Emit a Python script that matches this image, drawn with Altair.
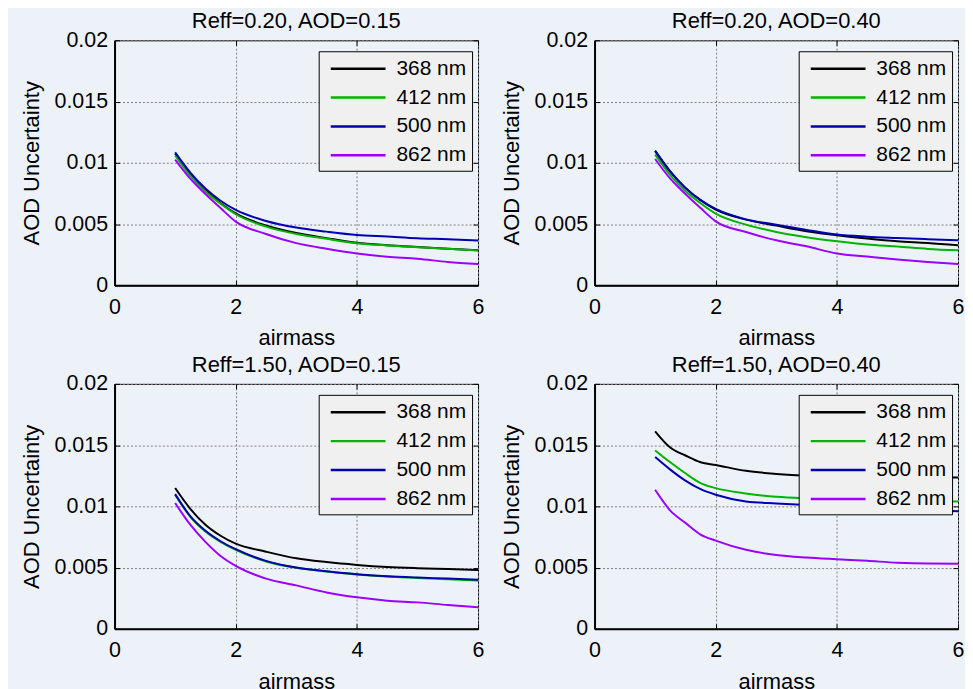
import altair as alt
import pandas as pd

airmass = [1, 1.25, 1.5, 1.75, 2, 2.5, 3, 3.5, 4, 4.5, 5, 5.5, 6]
wavelengths = ["368 nm", "412 nm", "500 nm", "862 nm"]
colors = ["#000000", "#00b400", "#0000b0", "#9b00ff"]
titles = ["Reff=0.20, AOD=0.15", "Reff=0.20, AOD=0.40",
          "Reff=1.50, AOD=0.15", "Reff=1.50, AOD=0.40"]

# AOD uncertainty values, in units of 1e-3, read at the airmass values above
tl_368 = [10.74, 9.05, 7.75, 6.70, 5.87, 4.88, 4.27, 3.85, 3.47, 3.27, 3.12, 2.98, 2.86]
tl_412 = [10.60, 8.95, 7.65, 6.65, 5.80, 4.79, 4.19, 3.79, 3.44, 3.25, 3.11, 2.98, 2.84]
tl_500 = [10.85, 9.20, 7.90, 6.90, 6.15, 5.25, 4.71, 4.38, 4.11, 3.98, 3.84, 3.76, 3.65]
tl_862 = [10.26, 8.70, 7.45, 6.30, 5.20, 4.19, 3.44, 2.98, 2.60, 2.33, 2.17, 1.90, 1.73]

tr_368 = [10.99, 9.30, 7.95, 6.95, 6.18, 5.36, 4.87, 4.41, 4.08, 3.81, 3.59, 3.46, 3.27]
tr_412 = [10.67, 9.00, 7.70, 6.70, 5.85, 4.95, 4.35, 3.92, 3.59, 3.32, 3.16, 2.97, 2.86]
tr_500 = [10.94, 9.25, 7.95, 6.95, 6.23, 5.38, 4.95, 4.52, 4.14, 3.97, 3.86, 3.76, 3.67]
tr_862 = [10.31, 8.70, 7.45, 6.30, 5.22, 4.35, 3.67, 3.18, 2.59, 2.34, 2.10, 1.90, 1.74]

bl_368 = [11.50, 9.80, 8.50, 7.60, 6.95, 6.30, 5.76, 5.45, 5.22, 5.05, 4.95, 4.88, 4.81]
bl_412 = [10.95, 9.15, 7.95, 7.10, 6.45, 5.50, 4.98, 4.68, 4.43, 4.27, 4.16, 4.05, 3.95]
bl_500 = [11.00, 9.20, 8.00, 7.15, 6.50, 5.55, 5.00, 4.70, 4.46, 4.30, 4.19, 4.10, 4.00]
bl_862 = [10.27, 8.50, 7.10, 5.95, 5.14, 4.10, 3.55, 2.97, 2.57, 2.30, 2.16, 1.95, 1.76]

br_368 = [16.13, 14.80, 14.15, 13.60, 13.38, 12.90, 12.65, 12.50, 12.45, 12.42, 12.40, 12.37, 12.35]
br_412 = [14.57, 13.60, 12.70, 11.90, 11.49, 11.05, 10.78, 10.66, 10.60, 10.55, 10.50, 10.45, 10.40]
br_500 = [14.03, 13.00, 12.10, 11.40, 10.95, 10.40, 10.24, 10.12, 10.00, 9.90, 9.80, 9.70, 9.60]
br_862 = [11.35, 9.65, 8.65, 7.70, 7.20, 6.45, 6.03, 5.82, 5.68, 5.55, 5.40, 5.33, 5.32]

panels = [
    [tl_368, tl_412, tl_500, tl_862],
    [tr_368, tr_412, tr_500, tr_862],
    [bl_368, bl_412, bl_500, bl_862],
    [br_368, br_412, br_500, br_862],
]

x_ticks = [0, 2, 4, 6]
y_ticks = [0, 0.005, 0.01, 0.015, 0.02]

FONT = "Liberation Sans"
W, H = 365, 246
XS = alt.Scale(domain=[0, 6], nice=False)
YS = alt.Scale(domain=[0, 0.02], nice=False)


def tick_axis(values, orient, offset):
    return alt.Axis(values=values, orient=orient, offset=offset, labels=False,
                    domain=False, grid=False, ticks=True, tickSize=5,
                    tickColor="black", tickWidth=1, title=None)


def make_panel(i):
    rows = []
    for wl, series in zip(wavelengths, panels[i]):
        for a, v in zip(airmass, series):
            rows.append({"airmass": a, "u": v / 1000.0, "wl": wl})
    df = pd.DataFrame(rows)
    base = alt.Chart(df)
    lines = base.mark_line(strokeWidth=2, interpolate="monotone", clip=True).encode(
        x=alt.X("airmass:Q", scale=XS,
                axis=alt.Axis(values=x_ticks, title="airmass", format="d", orient="bottom")),
        y=alt.Y("u:Q", scale=YS,
                axis=alt.Axis(values=y_ticks, title="AOD Uncertainty", format="~g", orient="left")),
        color=alt.Color("wl:N", sort=wavelengths,
                        scale=alt.Scale(domain=wavelengths, range=colors),
                        legend=alt.Legend(title=None)),
    )
    # inward ticks along bottom and left edges
    ticks_bl = base.mark_point(opacity=0, size=0).encode(
        x=alt.X("airmass:Q", scale=XS, axis=tick_axis(x_ticks, "top", -H)),
        y=alt.Y("u:Q", scale=YS, axis=tick_axis(y_ticks, "right", -W)),
    )
    # inward ticks along top and right edges
    ticks_tr = base.mark_point(opacity=0, size=0).encode(
        x=alt.X("airmass:Q", scale=XS, axis=tick_axis(x_ticks, "bottom", -H)),
        y=alt.Y("u:Q", scale=YS, axis=tick_axis(y_ticks, "left", -W)),
    )
    return (
        alt.layer(lines, ticks_bl, ticks_tr, title=alt.Title(titles[i]))
        .resolve_axis(x="independent", y="independent")
        .properties(width=W, height=H)
    )


top = alt.hconcat(make_panel(0), make_panel(1), spacing=14).resolve_scale(color="independent")
bottom = alt.hconcat(make_panel(2), make_panel(3), spacing=14).resolve_scale(color="independent")

chart = (
    alt.vconcat(top, bottom, spacing=4)
    .resolve_scale(color="independent")
    .properties(background="#edf2f9", padding={"left": 11, "top": 0, "right": 0, "bottom": 0})
    .configure_view(stroke="black", strokeWidth=1)
    .configure_axis(
        labelFont=FONT, labelFontSize=21.5, labelColor="black",
        titleFont=FONT, titleFontSize=22, titleFontWeight="normal", titleColor="black",
        domainColor="black", domainWidth=2, ticks=False, tickSize=0,
        grid=True, gridColor="#808080", gridDash=[2, 2], gridWidth=1,
        labelFlush=False,
    )
    .configure_axisX(labelPadding=11, titlePadding=10)
    .configure_axisY(labelPadding=7, titlePadding=11)
    .configure_title(font=FONT, fontSize=22, fontWeight="normal", color="black", offset=-4)
    .configure_legend(
        orient="none", legendX=205, legendY=11, fillColor="#f0f0f0", strokeColor="black",
        strokeWidth=1, padding=5, cornerRadius=0,
        labelFont=FONT, labelFontSize=21, labelColor="black", labelOffset=48,
        symbolType="M-0.49,0H4.51", symbolSize=484, symbolStrokeWidth=2.5, rowPadding=6,
    )
)

chart.save("out.html", embed_options={"renderer": "svg", "actions": False})
